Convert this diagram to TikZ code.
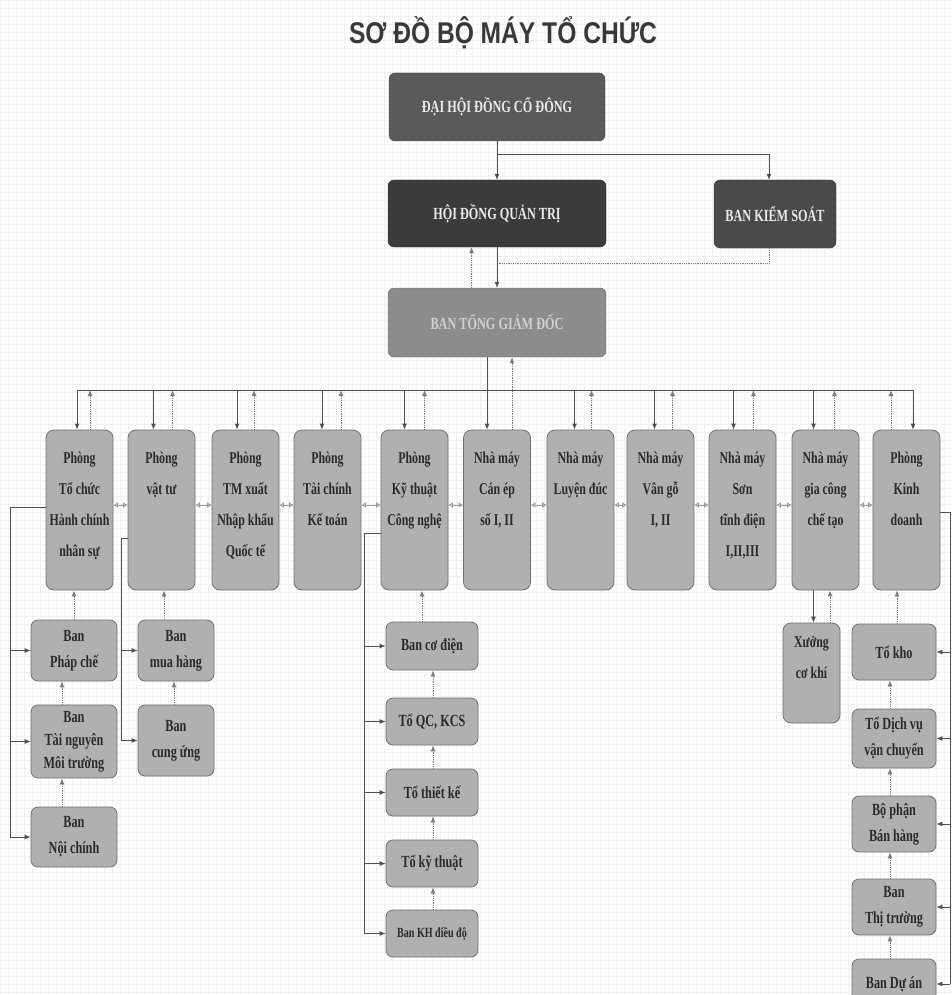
\documentclass[tikz,border=0pt]{standalone}
\usepackage{fontspec}
\setmainfont{Liberation Serif}
\newfontfamily\boxfont[FakeStretch=0.72]{Liberation Serif}
\newfontfamily\headfont[FakeStretch=0.72]{Liberation Serif}
\newfontfamily\titlefont[FakeStretch=0.82]{Liberation Sans}
\usepackage{tikz}
\usetikzlibrary{arrows.meta, positioning, calc}
\definecolor{boxgray}{HTML}{B0B0B0}
\definecolor{boxline}{HTML}{707070}
\definecolor{dhdgray}{HTML}{5A5A5A}
\definecolor{hdqtgray}{HTML}{3B3B3B}
\definecolor{bksgray}{HTML}{4A4A4A}
\definecolor{btgdgray}{HTML}{8C8C8C}
\definecolor{linegray}{HTML}{505050}
\definecolor{inkgray}{HTML}{2A2A2A}
\tikzset{top box/.style={draw=#1!75!black, fill=#1, rounded corners=6pt, minimum height=68pt, inner sep=0pt, text=white!92!black, font=\headfont\bfseries\fontsize{17}{20}\selectfont}}
\tikzset{dept box/.style={draw=boxline, fill=boxgray, rounded corners=8pt, minimum width=67pt, minimum height=160pt, inner sep=0pt, line width=0.8pt}}
\tikzset{dept text/.style={align=center, inner sep=0pt, text=inkgray, font=\boxfont\bfseries\fontsize{16.5}{31}\selectfont}}
\tikzset{sub box/.style={draw=boxline, fill=boxgray, rounded corners=7pt, align=center, inner sep=0pt, line width=0.8pt, text=inkgray, font=\boxfont\bfseries\fontsize{17}{26}\selectfont}}
\tikzset{link/.style={draw=linegray, line width=0.8pt, ->}}
\tikzset{back/.style={draw=linegray!75, line width=0.8pt, densely dotted, ->}}
\tikzset{bus/.style={draw=linegray, line width=0.8pt}}
\tikzset{two way/.style={draw=gray!80, line width=0.9pt, {Latex[open,length=4.5pt,width=6pt]}-{Latex[open,length=4.5pt,width=6pt]}}}
\tikzset{grid line/.style={draw=gray!12, line width=0.3pt}}

\begin{document}
\begin{tikzpicture}[x=1pt, y=-1pt, >={Latex[length=6pt,width=5pt]}, node distance=10pt]
    \useasboundingbox (0,0) rectangle (952,995);
    \fill[white] (0,0) rectangle (952,995);
    \foreach \g in {0,8,...,992}
        \draw[grid line] (0,\g) -- (952,\g);
    \foreach \g in {0,8,...,952}
        \draw[grid line] (\g,0) -- (\g,995);

    \node[font=\titlefont\bfseries\fontsize{30}{34}\selectfont, text=black!78] (title) at (503,33) {SƠ ĐỒ BỘ MÁY TỔ CHỨC};

    \node[top box=dhdgray, minimum width=216pt] (dhdcd) at (497,107) {ĐẠI HỘI ĐỒNG CỔ ĐÔNG};
    \node[top box=hdqtgray, minimum width=218pt, minimum height=67pt] (hdqt) at (497,213.5) {HỘI ĐỒNG QUẢN TRỊ};
    \node[top box=bksgray, minimum width=122pt] (bks) at (775,214) {BAN KIỂM SOÁT};
    \node[top box=btgdgray, minimum width=218pt, minimum height=69pt, text=white!82!black] (btgd) at (497,322.5) {BAN TỔNG GIÁM ĐỐC};

    \coordinate (split) at (497,154);
    \coordinate (join) at (497,263);
    \draw[bus] (dhdcd.south) -- (split);
    \draw[link] (split) -- (hdqt.north);
    \draw[link] (split) -| ($(bks.north)+(-6,0)$);
    \draw[back, -] ($(bks.south)+(-6,0)$) |- (join);
    \draw[link] (hdqt.south) -- (btgd.north);
    \draw[back] ($(btgd.north)+(-25.5,0)$) -- ($(hdqt.south)+(-25.5,0)$);

    % phong ban, nha may
    \foreach \i/\xc/\txt in {1/79.5/{Phòng\\Tổ chức\\Hành chính\\nhân sự},
                             2/161.5/{Phòng\\vật tư},
                             3/245.5/{Phòng\\TM xuất\\Nhập khẩu\\Quốc tế},
                             4/327.5/{Phòng\\Tài chính\\Kế toán},
                             5/414.5/{Phòng\\Kỹ thuật\\Công nghệ},
                             6/497/{Nhà máy\\Cán ép\\số I, II},
                             7/580.5/{Nhà máy\\Luyện đúc},
                             8/660.5/{Nhà máy\\Vân gỗ\\I, II},
                             9/742.5/{Nhà máy\\Sơn\\tĩnh điện\\I,II,III},
                             10/825.5/{Nhà máy\\gia công\\chế tạo},
                             11/906.5/{Phòng\\Kinh\\doanh}}
    {
        \node[dept box] (d\i) at (\xc,510) {};
        \node[dept text, below=22pt of d\i.north] (t\i) {\txt};
    }

    \coordinate (busL) at (77,390);
    \coordinate (busR) at (913,390);
    \draw[bus] (busL) -- (busR);
    \draw[link] ($(btgd.south)+(-10,0)$) -- ($(d6.north)+(-10,0)$);
    \draw[back] ($(d6.north)+(15,0)$) -- ($(btgd.south)+(15,0)$);
    \foreach \i/\dn/\up in {1/-2.5/10.5, 2/-8/11, 3/-8.5/8.5, 4/-5.5/13.5, 5/-10/10,
                            7/-6/11, 8/-6/12, 9/-9/11, 10/-12/9, 11/6.5/-15.5}
    {
        \draw[link] ($(d\i.north |- busL)+(\dn,0)$) -- ($(d\i.north)+(\dn,0)$);
        \draw[back] ($(d\i.north)+(\up,0)$) -- ($(d\i.north |- busL)+(\up,0)$);
    }
    \foreach \i in {1,...,10}
    {
        \pgfmathtruncatemacro\j{\i+1}
        \draw[two way] ($(d\i.east)+(0,-5)$) -- ($(d\j.west)+(0,-5)$);
    }

    % to chuc hanh chinh
    \node[sub box, minimum width=86pt, minimum height=61pt] (phapche) at (74,650.5) {Ban\\Pháp chế};
    \node[sub box, minimum width=86pt, minimum height=73pt, font=\boxfont\bfseries\fontsize{17}{23}\selectfont] (tainguyen) at (74,741.5) {Ban\\Tài nguyên\\Môi trường};
    \node[sub box, minimum width=86pt, minimum height=60pt] (noichinh) at (74,837) {Ban\\Nội chính};
    \coordinate (col1) at (10,507);
    \draw[bus] ($(d1.west)+(0,-3)$) -- (col1) -- (col1 |- noichinh.west);
    \foreach \n in {phapche,tainguyen,noichinh}
        \draw[link] (col1 |- \n.west) -- (\n.west);
    \draw[back] (phapche.north) -- (phapche.north |- d1.south);
    \draw[back] ($(tainguyen.north)+(-12,0)$) -- ($(phapche.south)+(-12,0)$);
    \draw[back] ($(noichinh.north)+(-12,0)$) -- ($(tainguyen.south)+(-12,0)$);

    % vat tu
    \node[sub box, minimum width=76pt, minimum height=61pt] (muahang) at (176,650.5) {Ban\\mua hàng};
    \node[sub box, minimum width=76pt, minimum height=71pt] (cungung) at (176,740.5) {Ban\\cung ứng};
    \coordinate (col2) at (121,538);
    \draw[bus] ($(d2.west)+(0,28)$) -- (col2) -- (col2 |- cungung.west);
    \foreach \n in {muahang,cungung}
        \draw[link] (col2 |- \n.west) -- (\n.west);
    \draw[back] ($(muahang.north)+(-12,0)$) -- ($(muahang.north |- d2.south)+(-12,0)$);
    \draw[back] ($(cungung.north)+(-2,0)$) -- ($(muahang.south)+(-2,0)$);

    % ky thuat cong nghe
    \node[sub box, minimum width=92pt, minimum height=48pt] (codien) at (432,646) {Ban cơ điện};
    \node[sub box, minimum width=92pt, minimum height=47pt] (qckcs) at (432,721.5) {Tổ QC, KCS};
    \node[sub box, minimum width=92pt, minimum height=47pt] (thietke) at (432,792.5) {Tổ thiết kế};
    \node[sub box, minimum width=92pt, minimum height=47pt] (kythuat) at (432,863.5) {Tổ kỹ thuật};
    \node[sub box, minimum width=92pt, minimum height=47pt, font=\boxfont\bfseries\fontsize{14}{18}\selectfont] (khdieudo) at (432,933.5) {Ban KH điều độ};
    \coordinate (col5) at (364,533);
    \draw[bus] ($(d5.west)+(0,23)$) -- (col5) -- (col5 |- khdieudo.west);
    \foreach \n in {codien,qckcs,thietke,kythuat,khdieudo}
        \draw[link] (col5 |- \n.west) -- (\n.west);
    \draw[back] ($(codien.north)+(-10,0)$) -- ($(codien.north |- d5.south)+(-10,0)$);
    \foreach \a/\b in {qckcs/codien, thietke/qckcs, kythuat/thietke, khdieudo/kythuat}
        \draw[back] ($(\a.north)+(1,0)$) -- ($(\b.south)+(1,0)$);

    % gia cong che tao
    \node[dept box, minimum width=57pt, minimum height=100pt] (xuong) at (811.5,673) {};
    \node[dept text, below=14pt of xuong.north] (txuong) {Xưởng\\cơ khí};
    \draw[link] ($(xuong.north |- d10.south)+(2,0)$) -- ($(xuong.north)+(2,0)$);
    \draw[back] ($(xuong.north)+(18.5,0)$) -- ($(xuong.north |- d10.south)+(18.5,0)$);

    % kinh doanh
    \node[sub box, minimum width=84pt, minimum height=56pt] (tokho) at (894,652) {Tổ kho};
    \node[sub box, minimum width=84pt, minimum height=59pt] (dichvu) at (894,738.5) {Tổ Dịch vụ\\vận chuyển};
    \node[sub box, minimum width=84pt, minimum height=56pt] (banhang) at (894,824) {Bộ phận\\Bán hàng};
    \node[sub box, minimum width=84pt, minimum height=56pt] (thitruong) at (894,907) {Ban\\Thị trường};
    \node[sub box, minimum width=84pt, minimum height=50pt] (duan) at (894,984) {Ban Dự án};
    \coordinate (col11) at (950,512);
    \draw[bus] ($(d11.east)+(0,2)$) -- (col11) -- (col11 |- duan.east);
    \foreach \n in {tokho,dichvu,banhang,thitruong,duan}
        \draw[link] (col11 |- \n.east) -- (\n.east);
    \draw[back] ($(tokho.north)+(3,0)$) -- ($(tokho.north |- d11.south)+(3,0)$);
    \foreach \a/\b in {dichvu/tokho, banhang/dichvu, thitruong/banhang, duan/thitruong}
        \draw[back] ($(\a.north)+(-4,0)$) -- ($(\b.south)+(-4,0)$);
\end{tikzpicture}
\end{document}
